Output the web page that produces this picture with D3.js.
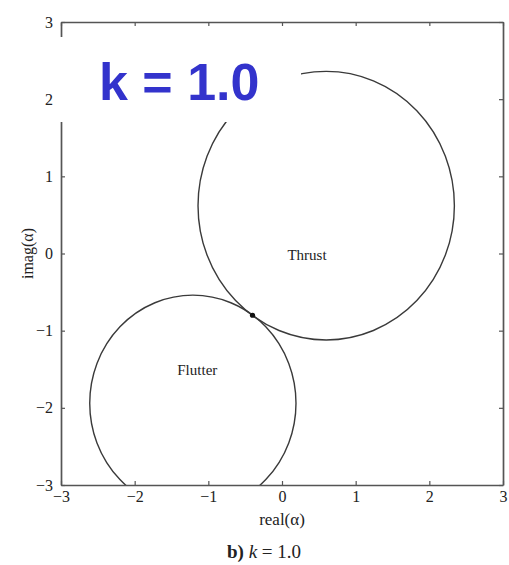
<!DOCTYPE html>
<html>
<head>
<meta charset="utf-8">
<script src="https://cdn.jsdelivr.net/npm/d3@7"></script>
<style>
  body { margin: 0; background: #fff; }
  svg { display: block; }
</style>
</head>
<body>
<div id="canvas"></div>
<script>
// circles in the complex alpha plane: [centre re, centre im, radius]
const regionNames = ["Thrust", "Flutter"];
const circleRe = [0.6, -1.21];
const circleIm = [0.62, -1.94];
const circleR = [1.74, 1.40];
const labelRe = [0.34, -1.15];
const labelIm = [-0.09, -1.58];
const tangentPoint = [-0.40, -0.80];
const xTicks = [-3, -2, -1, 0, 1, 2, 3];
const yTicks = [-3, -2, -1, 0, 1, 2, 3];

const width = 509;
const height = 565;
const margin = { top: 22, left: 61, bottom: 80, right: 6 };
const iwidth = width - margin.left - margin.right;
const iheight = height - margin.top - margin.bottom;

const svg = d3.select("#canvas").append("svg")
  .attr("width", width)
  .attr("height", height);

svg.append("defs").append("clipPath").attr("id", "plot-clip")
  .append("rect").attr("width", iwidth).attr("height", iheight);

const g = svg.append("g")
  .attr("transform", `translate(${margin.left},${margin.top})`);

const x = d3.scaleLinear().domain([-3, 3]).range([0, iwidth]);
const y = d3.scaleLinear().domain([-3, 3]).range([iheight, 0]);

const serif = "'Liberation Serif', 'DejaVu Serif', serif";
const ink = "#3a3a3a";

// circles
const circles = regionNames.map((name, i) => ({
  name, cx: circleRe[i], cy: circleIm[i], r: circleR[i], lx: labelRe[i], ly: labelIm[i]
}));

g.append("g").attr("clip-path", "url(#plot-clip)")
  .selectAll("ellipse").data(circles).enter().append("ellipse")
  .attr("cx", (d) => x(d.cx))
  .attr("cy", (d) => y(d.cy))
  .attr("rx", (d) => x(d.cx + d.r) - x(d.cx))
  .attr("ry", (d) => y(d.cy) - y(d.cy + d.r))
  .attr("fill", "none")
  .attr("stroke", ink)
  .attr("stroke-width", 1.4);

g.selectAll("text.region").data(circles).enter().append("text")
  .attr("class", "region")
  .attr("x", (d) => x(d.lx))
  .attr("y", (d) => y(d.ly))
  .attr("text-anchor", "middle")
  .style("font-family", serif)
  .style("font-size", "15px")
  .style("fill", "#222")
  .text((d) => d.name);

g.append("circle")
  .attr("cx", x(tangentPoint[0]))
  .attr("cy", y(tangentPoint[1]))
  .attr("r", 2.6)
  .attr("fill", "#111");

// axes: ticks inward on all four sides
const axisStyle = (sel) => {
  sel.select(".domain").attr("stroke", "#555").attr("stroke-width", 1.7);
  sel.selectAll(".tick line").attr("stroke", "#555").attr("stroke-width", 1.2);
  sel.selectAll("text").style("font-family", serif).style("font-size", "16px").style("fill", "#222");
};

g.append("g").classed("x--axis", true)
  .attr("transform", `translate(0,${iheight})`)
  .call(d3.axisBottom(x).tickValues(xTicks).tickSizeInner(-4).tickSizeOuter(0).tickPadding(6)
    .tickFormat((d) => d < 0 ? "\u2212" + Math.abs(d) : d))
  .call(axisStyle);

g.append("g").classed("y--axis", true)
  .call(d3.axisLeft(y).tickValues(yTicks).tickSizeInner(-4).tickSizeOuter(0).tickPadding(8)
    .tickFormat((d) => d < 0 ? "\u2212" + Math.abs(d) : d))
  .call(axisStyle);

g.append("g")
  .call(d3.axisTop(x).tickValues(xTicks).tickSizeInner(-4).tickSizeOuter(0).tickFormat(""))
  .call(axisStyle);

g.append("g")
  .attr("transform", `translate(${iwidth},0)`)
  .call(d3.axisRight(y).tickValues(yTicks).tickSizeInner(-4).tickSizeOuter(0).tickFormat(""))
  .call(axisStyle);

// axis titles
svg.append("text")
  .attr("x", margin.left + x(0))
  .attr("y", 525)
  .attr("text-anchor", "middle")
  .style("font-family", serif)
  .style("font-size", "17px")
  .style("fill", "#222")
  .text("real(\u03b1)");

svg.append("text")
  .attr("transform", `translate(33,${margin.top + y(0)}) rotate(-90)`)
  .attr("text-anchor", "middle")
  .style("font-family", serif)
  .style("font-size", "16px")
  .style("fill", "#222")
  .text("imag(\u03b1)");

// caption
const cap = svg.append("text")
  .attr("x", 264)
  .attr("y", 558)
  .attr("text-anchor", "middle")
  .style("font-family", serif)
  .style("font-size", "19px")
  .style("fill", "#222");
cap.append("tspan").style("font-weight", "bold").text("b)");
cap.append("tspan").text(" ");
cap.append("tspan").style("font-style", "italic").text("k");
cap.append("tspan").text(" = 1.0");

// white overlay box with the big label
svg.append("rect")
  .attr("x", 59).attr("y", 37)
  .attr("width", 242).attr("height", 85)
  .attr("fill", "#fff");

svg.append("text")
  .attr("x", 99)
  .attr("y", 100)
  .style("font-family", "'Liberation Sans', Arial, sans-serif")
  .style("font-weight", "bold")
  .style("font-size", "52px")
  .style("fill", "#3333cc")
  .text("k = 1.0");
</script>
</body>
</html>
